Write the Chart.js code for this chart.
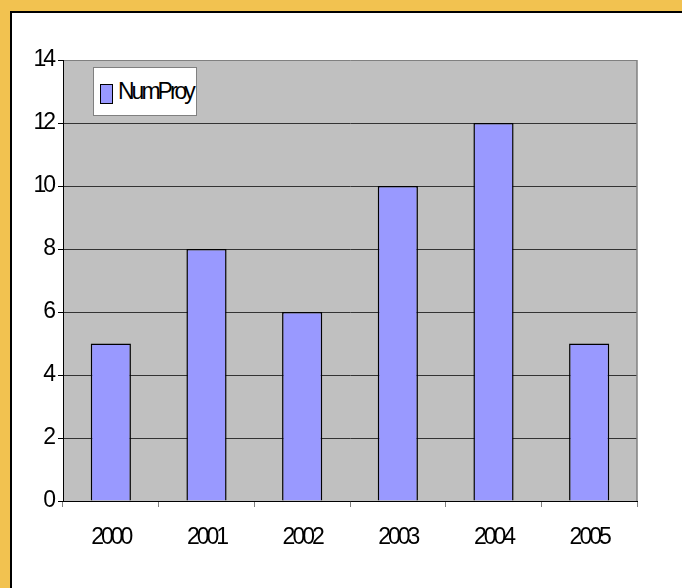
<!DOCTYPE html>
<html>
<head>
<meta charset="utf-8">
<script src="https://cdn.jsdelivr.net/npm/chart.js@4/dist/chart.umd.min.js"></script>
<style>
  body { margin: 0; background: #fff; }
  #wrap { position: relative; width: 682px; height: 588px; }
  #grafico { position: absolute; left: 0; top: 0; }
  #leyenda {
    position: absolute; left: 93px; top: 67px; width: 102px; height: 47px;
    background: #fff; border: 1px solid #808080;
    font-family: 'Liberation Sans', Arial, sans-serif;
    font-size: 23px; color: #000; letter-spacing: -3px;
  }
  #leyenda .caja {
    position: absolute; left: 6px; top: 16px; width: 11px; height: 18px;
    border: 1px solid #000; background: #9999FF;
  }
  #leyenda .txt { position: absolute; left: 24px; top: 10px; line-height: 26px; }
</style>
</head>
<body>
<div id="wrap">
  <canvas id="grafico" width="682" height="588"></canvas>
  <div id="leyenda"><span class="caja"></span><span class="txt"></span></div>
</div>
<script>
const anios = ['2000', '2001', '2002', '2003', '2004', '2005'];
const numProy = [5, 8, 6, 10, 12, 5];
const nombreSerie = 'NumProy';
const fuente = { family: "'Liberation Sans', Arial, sans-serif", size: 23 };

document.querySelector('#leyenda .txt').textContent = nombreSerie;

// marco naranja, fondo gris del area de trazado y letras apretadas
const fondo = {
    id: 'fondo',
    beforeUpdate(chart) {
        chart.ctx.letterSpacing = '-3px';
    },
    beforeDraw(chart) {
        const c = chart.ctx, a = chart.chartArea;
        c.save();
        c.fillStyle = '#fff';
        c.fillRect(0, 0, chart.width, chart.height);
        c.fillStyle = '#F2C250';
        c.fillRect(0, 0, chart.width, 11);
        c.fillRect(0, 0, 10, chart.height);
        c.fillStyle = '#000';
        c.fillRect(10, 11, chart.width - 10, 2);
        c.fillRect(10, 11, 2, chart.height - 11);
        c.fillStyle = '#C0C0C0';
        c.fillRect(a.left, a.top, a.right - a.left, a.bottom - a.top);
        c.restore();
        c.letterSpacing = '-3px';
    },
    afterDraw(chart) {
        const c = chart.ctx, a = chart.chartArea;
        c.save();
        c.strokeStyle = '#808080';
        c.lineWidth = 1.5;
        c.beginPath();
        c.moveTo(a.right, a.top);
        c.lineTo(a.right, a.bottom);
        c.stroke();
        c.restore();
    }
};

const ctx = document.getElementById('grafico').getContext('2d');
const grafico = new Chart(ctx, {
    type: 'bar',
    data: {
        labels: anios,
        datasets: [{
            label: nombreSerie,
            data: numProy,
            backgroundColor: '#9999FF',
            borderColor: '#000',
            borderWidth: 1.5,
            categoryPercentage: 1,
            barPercentage: 0.42
        }]
    },
    options: {
        responsive: false,
        devicePixelRatio: 1,
        animation: false,
        layout: { padding: { top: 60, right: 45, bottom: 27, left: 0 } },
        plugins: {
            legend: { display: false },
            tooltip: { enabled: false }
        },
        scales: {
            x: {
                afterFit(scale) { scale.height = 60; },
                grid: { drawOnChartArea: false, offset: true, tickLength: 6, color: '#808080' },
                border: { color: '#000', width: 1 },
                ticks: { color: '#000', font: fuente, padding: 17, maxRotation: 0 }
            },
            y: {
                min: 0,
                max: 14,
                afterFit(scale) { scale.width = 63; },
                grid: {
                    color: (c) => (c.tick && c.tick.value === 14 ? '#808080' : '#333'),
                    tickColor: '#000',
                    tickLength: 5
                },
                border: { color: '#000', width: 1 },
                ticks: { stepSize: 2, color: '#000', font: fuente, padding: 5 }
            }
        }
    },
    plugins: [fondo]
});
</script>
</body>
</html>
